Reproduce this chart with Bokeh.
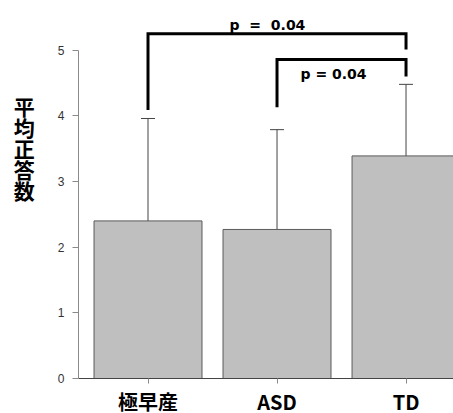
from bokeh.plotting import figure
from bokeh.models import ColumnDataSource, Whisker, TeeHead, Range1d, FixedTicker
from bokeh.core.properties import value
from bokeh.embed import file_html
from bokeh.resources import INLINE

# ---- data ----
categories = ["極早産", "ASD", "TD"]
means = [2.40, 2.27, 3.39]
err_upper = [3.96, 3.79, 4.48]
err_lower = [0.87, 0.74, 2.30]
y_ticks = [0, 1, 2, 3, 4, 5]
y_label = "平均正答数"

# significance brackets (category indices and heights in data units)
bracket_pairs = [(0, 2), (1, 2)]
bracket_top = [5.25, 4.86]
bracket_left_end = [4.09, 4.13]
bracket_right_end = [5.01, 4.60]
p_texts = ["p\u00a0\u00a0=\u00a0\u00a00.04", "p = 0.04"]

xs = [i + 1 for i in range(len(categories))]

p = figure(width=453, height=413, output_backend="svg", toolbar_location=None,
           x_range=Range1d(0.4612, 3.368), y_range=Range1d(0, 5.757),
           min_border_left=78, min_border_right=0, min_border_top=0, min_border_bottom=35,
           frame_width=375, frame_height=378)
p.outline_line_color = None
p.xgrid.visible = False
p.ygrid.visible = False
p.background_fill_color = "white"
p.border_fill_color = "white"

src = ColumnDataSource(dict(x=xs, top=means, upper=err_upper, lower=err_lower))
p.vbar(x="x", top="top", width=0.837, source=src, fill_color="#bfbfbf",
       line_color="#5a5a5a", line_width=1)

wh = Whisker(base="x", upper="upper", lower="lower", source=src,
             line_color="#444444", line_width=1,
             upper_head=TeeHead(size=14, line_color="#444444", line_width=1),
             lower_head=TeeHead(size=14, line_color="#444444", line_width=1))
p.add_layout(wh)

# brackets
bx, by = [], []
for (a, b), top, le, re in zip(bracket_pairs, bracket_top, bracket_left_end, bracket_right_end):
    bx.append([xs[a], xs[a], xs[b], xs[b]])
    by.append([le, top, top, re])
p.multi_line(bx, by, line_color="black", line_width=3, line_join="miter")

# p-value labels
text_x = [1.926, 2.438]
text_y = [5.39, 4.63]
p.text(x=text_x, y=text_y, text=p_texts, text_font=value("DejaVu Sans"),
       text_font_style="bold", text_font_size="14px", text_align="center",
       text_baseline="middle", text_color="black")

# axes
p.yaxis.ticker = FixedTicker(ticks=y_ticks)
p.yaxis.bounds = (0, 5)
p.yaxis.axis_line_color = "#8a8a8a"
p.yaxis.major_tick_line_color = "#8a8a8a"
p.yaxis.major_tick_out = 6
p.yaxis.major_tick_in = 0
p.yaxis.minor_tick_line_color = None
p.yaxis.major_label_text_font = "Liberation Sans"
p.yaxis.major_label_text_font_size = "12px"
p.yaxis.major_label_text_color = "#333333"
p.yaxis.major_label_standoff = 8
# vertical stacked title; trailing blank lines lift it above the frame's centre
p.yaxis.axis_label = "\n".join(list(y_label) + ["\u00a0"] * 4)
p.yaxis.axis_label_orientation = "horizontal"
p.yaxis.axis_label_text_font = "Noto Sans CJK JP"
p.yaxis.axis_label_text_font_style = "bold"
p.yaxis.axis_label_text_font_size = "21px"
p.yaxis.axis_label_text_color = "black"
p.yaxis.axis_label_text_line_height = 0.70
p.yaxis.axis_label_standoff = 20

p.xaxis.ticker = FixedTicker(ticks=xs)
p.xaxis.major_label_overrides = {x: c for x, c in zip(xs, categories)}
p.xaxis.axis_line_color = "#444444"
p.xaxis.major_tick_line_color = "#8a8a8a"
p.xaxis.major_tick_out = 5
p.xaxis.major_tick_in = 0
p.xaxis.minor_tick_line_color = None
p.xaxis.major_label_text_font = "Noto Sans CJK JP"
p.xaxis.major_label_text_font_style = "bold"
p.xaxis.major_label_text_font_size = "20px"
p.xaxis.major_label_text_color = "black"
p.xaxis.major_label_standoff = 3

open("out.html", "w").write(file_html(p, INLINE))
